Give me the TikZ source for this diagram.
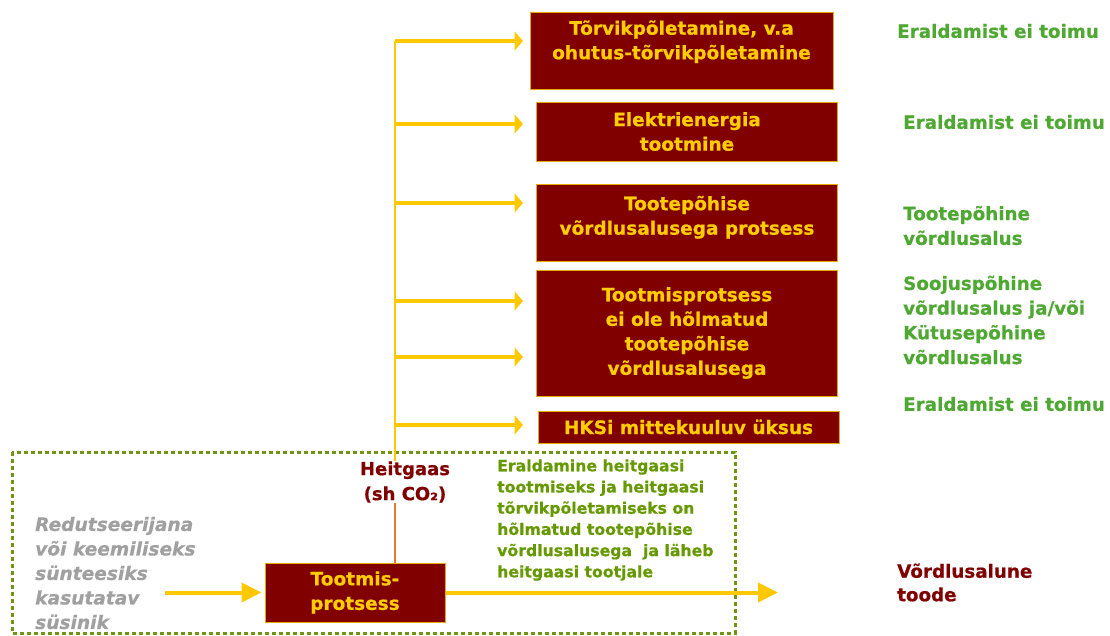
\documentclass[tikz,border=0pt]{standalone}
\usepackage{fontspec}
\setmainfont{DejaVu Sans}[BoldFeatures={FakeBold=0.6}, BoldItalicFeatures={FakeBold=0.6}]
\usetikzlibrary{arrows.meta,positioning,calc}

\definecolor{boxred}{RGB}{128,0,0}
\definecolor{boxline}{RGB}{230,170,0}
\definecolor{boxtext}{RGB}{255,204,0}
\definecolor{arrowyellow}{RGB}{255,200,0}
\definecolor{co2orange}{RGB}{230,120,50}
\definecolor{notegreen}{RGB}{78,168,50}
\definecolor{sepgreen}{RGB}{102,153,0}
\definecolor{framegreen}{RGB}{110,150,20}
\definecolor{srcgray}{RGB}{160,160,160}

\begin{document}
\begin{tikzpicture}[x=1pt, y=-1pt,
  box/.style={draw=boxline, fill=boxred, text=boxtext, line width=1pt,
              align=center, inner sep=0pt, minimum width=301pt,
              font=\fontsize{18.5}{24.5}\selectfont\bfseries},
  arr/.style={-{Triangle[length=8.5pt,width=19pt]}, line width=4pt, draw=arrowyellow},
  flow/.style={-{Triangle[length=20pt,width=19pt]}, line width=4pt, draw=arrowyellow},
  note/.style={anchor=west, align=left, inner sep=0pt, text=notegreen,
               font=\fontsize{18.3}{24.7}\selectfont\bfseries},
  frame/.style={draw=framegreen, line width=3pt, dash pattern=on 4pt off 3pt}
]
\useasboundingbox (0,0) rectangle (1110,635);

% frame round the production unit
\coordinate (fnw) at (12,452);
\coordinate (fse) at (735,633);
\draw[frame] (fnw) rectangle (fse);

% receiving processes
\node[box, minimum width=303pt, minimum height=77pt] (flare) at (681.5,50.5)
  {Tõrvikpõletamine, v.a\\ohutus-tõrvikpõletamine\\[-3pt]\mbox{}};
\node[box, minimum height=59pt, below=12pt of flare, xshift=5.5pt] (power)
  {Elektrienergia\\tootmine};
\node[box, minimum height=77pt, below=22pt of power] (prodbm)
  {Tootepõhise\\võrdlusalusega protsess\\[-10pt]\mbox{}};
\node[box, minimum height=126pt, below=8pt of prodbm] (other)
  {Tootmisprotsess\\ei ole hõlmatud\\tootepõhise\\võrdlusalusega};
\node[box, minimum height=32pt, below=14pt of other, xshift=1.5pt] (nonets)
  {HKSi mittekuuluv üksus};

% allocation notes
\node[note] (r1) at (897,31) {Eraldamist ei toimu};
\node[note] (r2) at (903,122) {Eraldamist ei toimu};
\node[note] (r3) at (903,225.5) {Tootepõhine\\võrdlusalus};
\node[note] (r4) at (903,320) {Soojuspõhine\\võrdlusalus ja/või\\Kütusepõhine\\võrdlusalus};
\node[note] (r5) at (903,404) {Eraldamist ei toimu};

% production unit
\node[box, minimum width=180pt, minimum height=59pt] (proc) at (355,592.5)
  {Tootmis-\\protsess};
\node[inner sep=0pt, align=center, text=boxred,
      font=\fontsize{18}{25}\selectfont\bfseries] (co2) at (405,482)
  {Heitgaas\\(sh CO₂)};
\node[anchor=west, align=left, inner sep=0pt, text=sepgreen,
      font=\fontsize{15.7}{21.2}\selectfont\bfseries] (sep) at (497,520)
  {Eraldamine heitgaasi\\tootmiseks ja heitgaasi\\tõrvikpõletamiseks on\\hõlmatud tootepõhise\\võrdlusalusega\ \ ja läheb\\heitgaasi tootjale};
\node[anchor=west, align=left, inner sep=0pt, text=srcgray,
      font=\fontsize{18.6}{24.5}\selectfont\bfseries\itshape] (src) at (35,573)
  {Redutseerijana\\või keemiliseks\\sünteesiks\\kasutatav\\süsinik};
\node[anchor=west, align=left, inner sep=0pt, text=boxred,
      font=\fontsize{18.3}{23.5}\selectfont\bfseries] (bmprod) at (897,582.5)
  {Võrdlusalune\\toode};

% waste gas lines
\coordinate (trunk) at (395,41);
\coordinate (tipcol) at (523,0);
\draw[arrowyellow, line width=1.8pt] (trunk) -- (trunk |- co2.north);
\draw[co2orange, line width=1.8pt] (trunk |- co2.south) -- (trunk |- proc.north);
\foreach \b/\dy [count=\i] in {flare/9.5, power/7.5, prodbm/19.5, other/32, other/-24, nonets/2} {
  \coordinate (a\i) at ([yshift=\dy pt]\b.west);
  \draw[arr] (a\i -| trunk) -- (a\i -| tipcol);
}

% carbon in, product out
\coordinate (cin) at (165,592.5);
\coordinate (cout) at (778,592.5);
\draw[flow, shorten >=3pt] (cin) -- (proc.west);
\draw[flow] (proc.east) -- (cout);
\end{tikzpicture}
\end{document}
